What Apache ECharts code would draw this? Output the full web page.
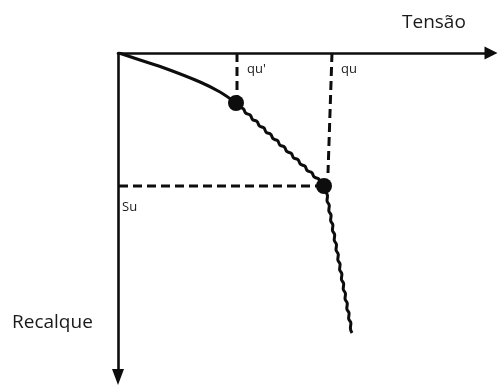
<!DOCTYPE html>
<html>
<head>
<meta charset="utf-8">
<script src="https://cdn.jsdelivr.net/npm/echarts@6/dist/echarts.min.js"></script>
<style>
  html, body { margin: 0; padding: 0; background: #fff; }
  #chart { width: 499px; height: 385px; }
</style>
</head>
<body>
<div id="chart"></div>
<script>
// Load–settlement diagram: tension on the horizontal axis, settlement (recalque) downward.

// Initial smooth branch, from the origin up to the first critical point (qu').
const elasticBranch = [[1, 0], [22, 7], [49, 16], [82, 29], [102, 39], [118, 50]];

// Irregular branch between qu' and qu.
const yieldBranch = [
  [118, 50], [120.87, 53.79], [125.39, 55.78], [127.71, 60.17], [132.23, 62.16], [134.55, 66.55],
  [139.07, 68.54], [141.39, 72.93], [145.91, 74.92], [148.23, 79.31], [152.75, 81.3], [155.07, 85.69],
  [159.59, 87.68], [161.91, 92.07], [166.43, 94.06], [168.75, 98.45], [173.27, 100.44], [175.59, 104.83],
  [180.11, 106.82], [182.43, 111.21], [186.95, 113.2], [189.27, 117.59], [193.79, 119.58], [196.11, 123.97],
  [200.63, 125.96], [202.95, 130.35], [206, 133]
];

// Irregular branch after failure (qu), almost vertical.
const failureBranch = [
  [206, 133], [207.2, 138.03], [209.5, 142.67], [209.0, 147.83], [211.3, 152.47], [210.8, 157.63],
  [213.1, 162.27], [212.6, 167.43], [214.9, 172.07], [214.4, 177.23], [216.7, 181.87], [216.2, 187.03],
  [218.5, 191.67], [218.0, 196.83], [220.3, 201.47], [219.8, 206.63], [222.1, 211.27], [221.6, 216.43],
  [223.9, 221.07], [223.4, 226.23], [225.7, 230.87], [225.2, 236.03], [227.5, 240.67], [227.0, 245.83],
  [229.3, 250.47], [228.8, 255.63], [231.1, 260.27], [230.6, 265.43], [232.9, 270.07], [232.4, 275.23],
  [234, 280]
];

// Critical points: qu' and qu.
const criticalPoints = [[118, 50], [206, 133]];

// Guide lines to the axes.
const guideQuPrime = [[119, 0], [119, 48]];
const guideQu = [[214, 0], [210, 120]];
const guideSu = [[1, 133], [200, 133]];

// Axis extents.
const tensionMax = 373;
const settlementMax = 324;

const chart = echarts.init(document.getElementById('chart'), null, { renderer: 'canvas' });

const ink = '#0d0d0d';
const textInk = '#1a1a1a';
const font = '"Open Sans", "Noto Sans", sans-serif';

function branch(data) {
  return {
    type: 'line', data, smooth: 0.35, symbol: 'none',
    lineStyle: { color: ink, width: 3 }, silent: true, z: 3
  };
}
function guide(data) {
  return {
    type: 'line', data, symbol: 'none',
    lineStyle: { color: ink, width: 3, type: [9, 5] }, silent: true, z: 2
  };
}

chart.setOption({
  animation: false,
  backgroundColor: '#fff',
  grid: { left: 118, top: 53, width: 373, height: 324 },
  xAxis: {
    type: 'value', position: 'top', min: 0, max: tensionMax,
    axisLine: { onZero: false, symbol: ['none', 'triangle'], symbolSize: [13, 13],
      lineStyle: { color: ink, width: 2.6 } },
    axisTick: { show: false }, axisLabel: { show: false }, splitLine: { show: false }
  },
  yAxis: {
    type: 'value', inverse: true, min: 0, max: settlementMax,
    axisLine: { onZero: false, symbol: ['triangle', 'none'], symbolSize: [12, 16],
      lineStyle: { color: ink, width: 2.6 } },
    axisTick: { show: false }, axisLabel: { show: false }, splitLine: { show: false }
  },
  series: [
    guide(guideQuPrime),
    guide(guideQu),
    guide(guideSu),
    branch(elasticBranch),
    branch(yieldBranch),
    branch(failureBranch),
    {
      type: 'scatter', data: criticalPoints, symbol: 'circle', symbolSize: 16,
      itemStyle: { color: ink, opacity: 1 }, silent: true, z: 4
    }
  ],
  graphic: [
    { type: 'text', left: 402, top: 13, style: { text: 'Tensão', fill: textInk, font: '19px ' + font } },
    { type: 'text', left: 12, top: 313, style: { text: 'Recalque', fill: textInk, font: '19px ' + font } },
    { type: 'text', left: 247, top: 63, style: { text: "qu'", fill: textInk, font: '13px ' + font } },
    { type: 'text', left: 341, top: 63, style: { text: 'qu', fill: textInk, font: '13px ' + font } },
    { type: 'text', left: 122, top: 201, style: { text: 'Su', fill: textInk, font: '13px ' + font } }
  ]
});
</script>
</body>
</html>
